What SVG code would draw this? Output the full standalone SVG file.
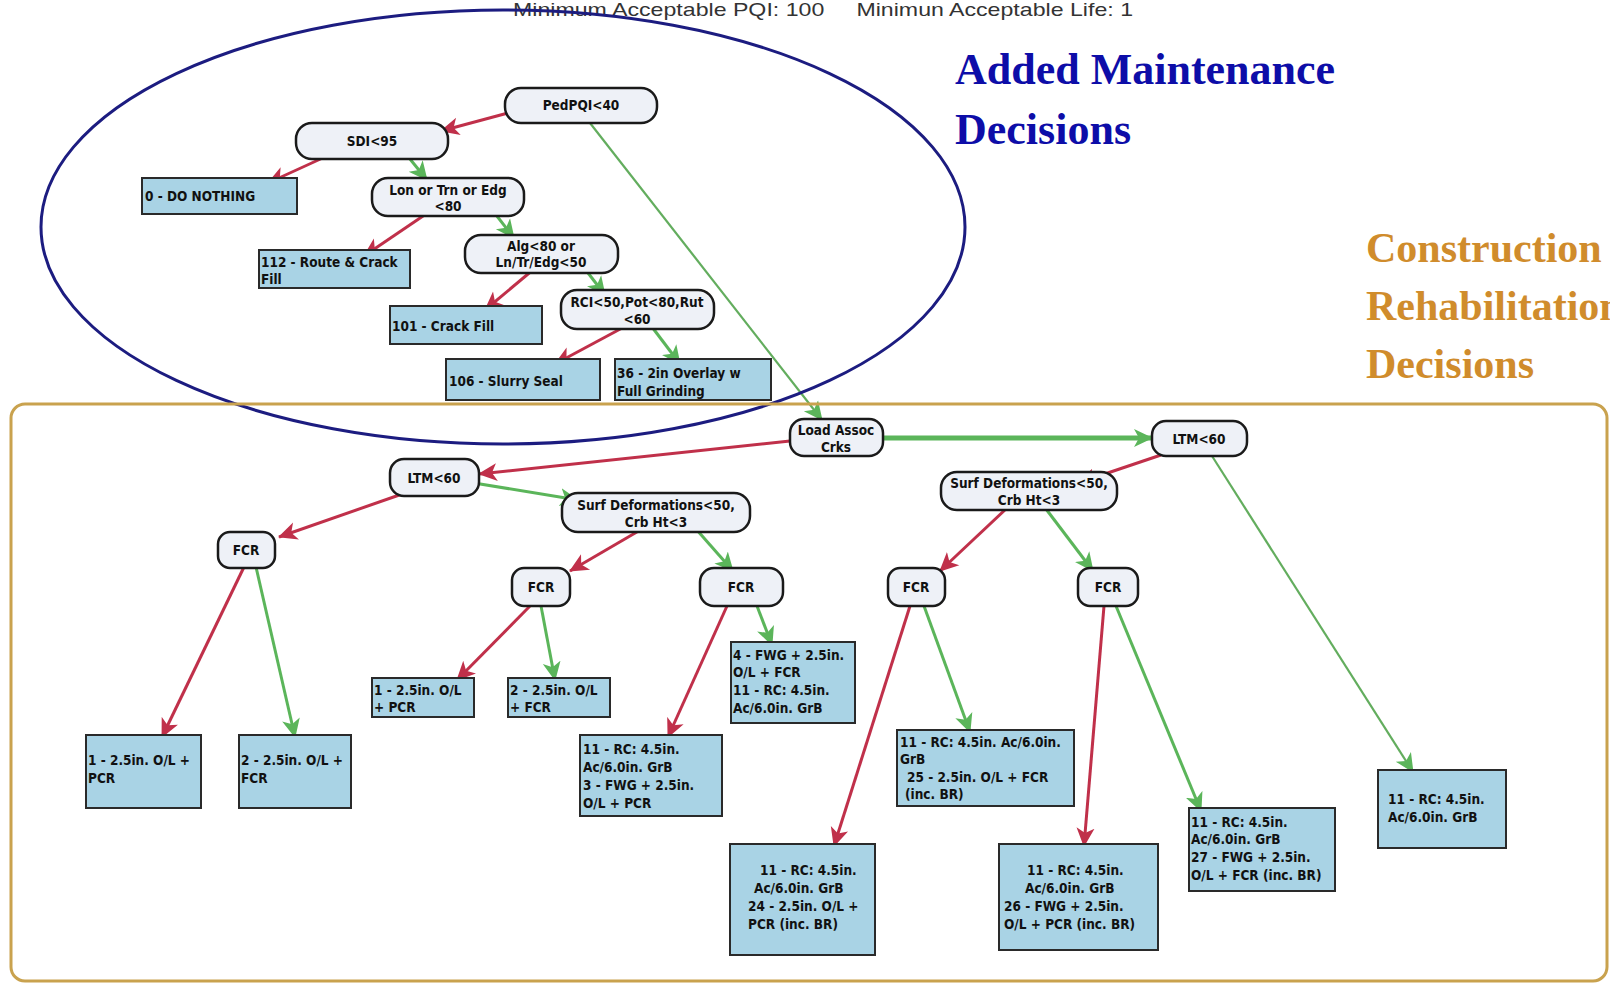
<svg xmlns="http://www.w3.org/2000/svg" width="1610" height="983" viewBox="0 0 1610 983">
<style>
.pill{fill:#eef1f7;stroke:#1a1a1a;stroke-width:2.5}
.leaf{fill:#a9d3e5;stroke:#2a2a2a;stroke-width:2}
.t{font-family:"DejaVu Sans Condensed","DejaVu Sans",sans-serif;font-stretch:condensed;font-weight:bold;font-size:13.5px;fill:#111}
.c{text-anchor:middle}
.red{stroke:#c0304a;stroke-width:3;fill:none;marker-end:url(#ar)}
.grn{stroke:#5bb55a;stroke-width:3;fill:none;marker-end:url(#ag)}
.grnt{stroke:#63ad5e;stroke-width:2.2;fill:none;marker-end:url(#ag)}
.grnb{stroke:#5bb55a;stroke-width:5;fill:none;marker-end:url(#ag)}
.title{font-family:"Liberation Serif",serif;font-size:44px}
</style>
<defs>
<marker id="ar" markerUnits="userSpaceOnUse" markerWidth="20" markerHeight="20" viewBox="0 0 20 20" refX="18" refY="10" orient="auto">
<path d="M0,1 L19,10 L0,19 L5,10 Z" fill="#c0304a"/>
</marker>
<marker id="ag" markerUnits="userSpaceOnUse" markerWidth="20" markerHeight="20" viewBox="0 0 20 20" refX="18" refY="10" orient="auto">
<path d="M0,1 L19,10 L0,19 L5,10 Z" fill="#5bb55a"/>
</marker>
</defs>
<rect width="1610" height="983" fill="#ffffff"/>

<text x="513" y="16" font-family="Liberation Sans,Arial,sans-serif" font-size="19" fill="#333" textLength="620" lengthAdjust="spacingAndGlyphs" xml:space="preserve">Minimum Acceptable PQI: 100     Minimun Acceptable Life: 1</text>

<g id="title-maint" class="title" font-weight="bold" fill="#0d0da8">
<text x="955" y="84">Added Maintenance</text>
<text x="955" y="144">Decisions</text>
</g>
<g id="title-constr" class="title" font-weight="bold" font-size="42" fill="#d08c2c">
<text x="1366" y="262" font-size="42">Construction</text>
<text x="1366" y="320" font-size="42">Rehabilitation</text>
<text x="1366" y="378" font-size="42">Decisions</text>
</g>

<g id="connectors">
<path class="red" d="M508,113 L441,131"/>
<path class="grnt" d="M590,123 L822,420"/>
<path class="red" d="M327,156 L268,183"/>
<path class="grn" d="M410,159 L427,180"/>
<path class="red" d="M426,214 L364,256"/>
<path class="grn" d="M493,211 L514,238"/>
<path class="red" d="M534,269 L485,310"/>
<path class="grn" d="M585,269 L605,295"/>
<path class="red" d="M624,327 L555,364"/>
<path class="grn" d="M652,327 L680,364"/>

<path class="grnb" d="M883,438 L1152,438"/>
<path class="red" d="M790,441 L479,474"/>
<path class="red" d="M405,493 L279,537"/>
<path class="grn" d="M474,483 L578,500"/>
<path class="red" d="M642,529 L570,571"/>
<path class="grn" d="M696,529 L733,571"/>
<path class="red" d="M244,567 L162,737"/>
<path class="grn" d="M256,567 L295,737"/>
<path class="red" d="M530,606 L457,680"/>
<path class="grn" d="M541,606 L555,680"/>
<path class="red" d="M727,606 L668,737"/>
<path class="grn" d="M757,606 L772,645"/>
<path class="red" d="M1161,455 L1078,483"/>
<path class="grnt" d="M1212,456 L1413,772"/>
<path class="red" d="M1006,509 L940,571"/>
<path class="grn" d="M1046,509 L1093,571"/>
<path class="red" d="M910,606 L834,846"/>
<path class="grn" d="M924,606 L970,732"/>
<path class="red" d="M1104,606 L1084,846"/>
<path class="grn" d="M1116,606 L1201,811"/>
</g>

<g id="n-pedpqi"><rect class="pill" x="505" y="88" width="152" height="35" rx="16"/><text class="t c" x="581" y="110">PedPQI&lt;40</text></g>
<g id="n-sdi"><rect class="pill" x="296" y="123" width="152" height="36" rx="16"/><text class="t c" x="372" y="146">SDI&lt;95</text></g>
<g id="n-lon"><rect class="pill" x="372" y="178" width="152" height="38" rx="16"/><text class="t c" x="448" y="195">Lon or Trn or Edg</text><text class="t c" x="448" y="211">&lt;80</text></g>
<g id="n-alg"><rect class="pill" x="465" y="235" width="153" height="38" rx="16"/><text class="t c" x="541" y="251">Alg&lt;80 or</text><text class="t c" x="541" y="267">Ln/Tr/Edg&lt;50</text></g>
<g id="n-rci"><rect class="pill" x="561" y="290" width="153" height="39" rx="16"/><text class="t c" x="637" y="307">RCI&lt;50,Pot&lt;80,Rut</text><text class="t c" x="637" y="324">&lt;60</text></g>
<g id="n-donothing"><rect class="leaf" x="142" y="178" width="155" height="36"/><text class="t" x="145" y="201">0 - DO NOTHING</text></g>
<g id="n-112"><rect class="leaf" x="259" y="250" width="151" height="38"/><text class="t" x="261" y="267">112 - Route &amp; Crack</text><text class="t" x="261" y="284">Fill</text></g>
<g id="n-101"><rect class="leaf" x="390" y="306" width="152" height="38"/><text class="t" x="392" y="331">101 - Crack Fill</text></g>
<g id="n-106"><rect class="leaf" x="446" y="359" width="154" height="41"/><text class="t" x="449" y="386">106 - Slurry Seal</text></g>
<g id="n-36"><rect class="leaf" x="615" y="359" width="156" height="41"/><text class="t" x="617" y="378">36 - 2in Overlay w</text><text class="t" x="617" y="396">Full Grinding</text></g>

<g id="n-load"><rect class="pill" x="790" y="419" width="93" height="37" rx="14"/><text class="t c" x="836" y="435">Load Assoc</text><text class="t c" x="836" y="452">Crks</text></g>
<g id="n-ltm-r"><rect class="pill" x="1152" y="421" width="95" height="35" rx="14"/><text class="t c" x="1199" y="444">LTM&lt;60</text></g>
<g id="n-ltm-l"><rect class="pill" x="390" y="459" width="89" height="37" rx="14"/><text class="t c" x="434" y="483">LTM&lt;60</text></g>
<g id="n-surf-l"><rect class="pill" x="562" y="493" width="188" height="39" rx="16"/><text class="t c" x="656" y="510">Surf Deformations&lt;50,</text><text class="t c" x="656" y="527">Crb Ht&lt;3</text></g>
<g id="n-surf-r"><rect class="pill" x="941" y="472" width="176" height="38" rx="16"/><text class="t c" x="1029" y="488">Surf Deformations&lt;50,</text><text class="t c" x="1029" y="505">Crb Ht&lt;3</text></g>
<g id="n-fcr1"><rect class="pill" x="218" y="532" width="57" height="36" rx="12"/><text class="t c" x="246" y="555">FCR</text></g>
<g id="n-fcr2"><rect class="pill" x="512" y="568" width="58" height="38" rx="12"/><text class="t c" x="541" y="592">FCR</text></g>
<g id="n-fcr3"><rect class="pill" x="700" y="568" width="83" height="38" rx="14"/><text class="t c" x="741" y="592">FCR</text></g>
<g id="n-fcr4"><rect class="pill" x="888" y="568" width="57" height="38" rx="12"/><text class="t c" x="916" y="592">FCR</text></g>
<g id="n-fcr5"><rect class="pill" x="1078" y="568" width="60" height="38" rx="12"/><text class="t c" x="1108" y="592">FCR</text></g>

<g id="n-a1"><rect class="leaf" x="86" y="735" width="115" height="73"/><text class="t" x="88" y="765">1 - 2.5in. O/L +</text><text class="t" x="88" y="783">PCR</text></g>
<g id="n-a2"><rect class="leaf" x="239" y="735" width="112" height="73"/><text class="t" x="241" y="765">2 - 2.5in. O/L +</text><text class="t" x="241" y="783">FCR</text></g>
<g id="n-a3"><rect class="leaf" x="372" y="678" width="102" height="39"/><text class="t" x="374" y="695">1 - 2.5in. O/L</text><text class="t" x="374" y="712">+ PCR</text></g>
<g id="n-a4"><rect class="leaf" x="508" y="678" width="102" height="39"/><text class="t" x="510" y="695">2 - 2.5in. O/L</text><text class="t" x="510" y="712">+ FCR</text></g>
<g id="n-a5"><rect class="leaf" x="580" y="735" width="142" height="81"/><text class="t" x="583" y="754">11 - RC: 4.5in.</text><text class="t" x="583" y="772">Ac/6.0in. GrB</text><text class="t" x="583" y="790">3 - FWG + 2.5in.</text><text class="t" x="583" y="808">O/L + PCR</text></g>
<g id="n-a6"><rect class="leaf" x="731" y="642" width="124" height="81"/><text class="t" x="733" y="660">4 - FWG + 2.5in.</text><text class="t" x="733" y="677">O/L + FCR</text><text class="t" x="733" y="695">11 - RC: 4.5in.</text><text class="t" x="733" y="713">Ac/6.0in. GrB</text></g>
<g id="n-a7"><rect class="leaf" x="897" y="730" width="177" height="76"/><text class="t" x="900" y="747">11 - RC: 4.5in. Ac/6.0in.</text><text class="t" x="900" y="764">GrB</text><text class="t" x="907" y="782">25 - 2.5in. O/L + FCR</text><text class="t" x="905" y="799">(inc. BR)</text></g>
<g id="n-a8"><rect class="leaf" x="730" y="844" width="145" height="111"/><text class="t" x="760" y="875">11 - RC: 4.5in.</text><text class="t" x="754" y="893">Ac/6.0in. GrB</text><text class="t" x="748" y="911">24 - 2.5in. O/L +</text><text class="t" x="748" y="929">PCR (inc. BR)</text></g>
<g id="n-a9"><rect class="leaf" x="999" y="844" width="159" height="106"/><text class="t" x="1027" y="875">11 - RC: 4.5in.</text><text class="t" x="1025" y="893">Ac/6.0in. GrB</text><text class="t" x="1004" y="911">26 - FWG + 2.5in.</text><text class="t" x="1004" y="929">O/L + PCR (inc. BR)</text></g>
<g id="n-a10"><rect class="leaf" x="1189" y="808" width="146" height="83"/><text class="t" x="1191" y="827">11 - RC: 4.5in.</text><text class="t" x="1191" y="844">Ac/6.0in. GrB</text><text class="t" x="1191" y="862">27 - FWG + 2.5in.</text><text class="t" x="1191" y="880">O/L + FCR (inc. BR)</text></g>
<g id="n-a11"><rect class="leaf" x="1378" y="770" width="128" height="78"/><text class="t" x="1388" y="804">11 - RC: 4.5in.</text><text class="t" x="1388" y="822">Ac/6.0in. GrB</text></g>

<ellipse id="maint-ellipse" cx="503" cy="227" rx="462" ry="217" fill="none" stroke="#1c1c80" stroke-width="3"/>
<rect id="constr-frame" x="11" y="404" width="1596" height="577" rx="14" fill="none" stroke="#c9a24e" stroke-width="3"/>
</svg>
